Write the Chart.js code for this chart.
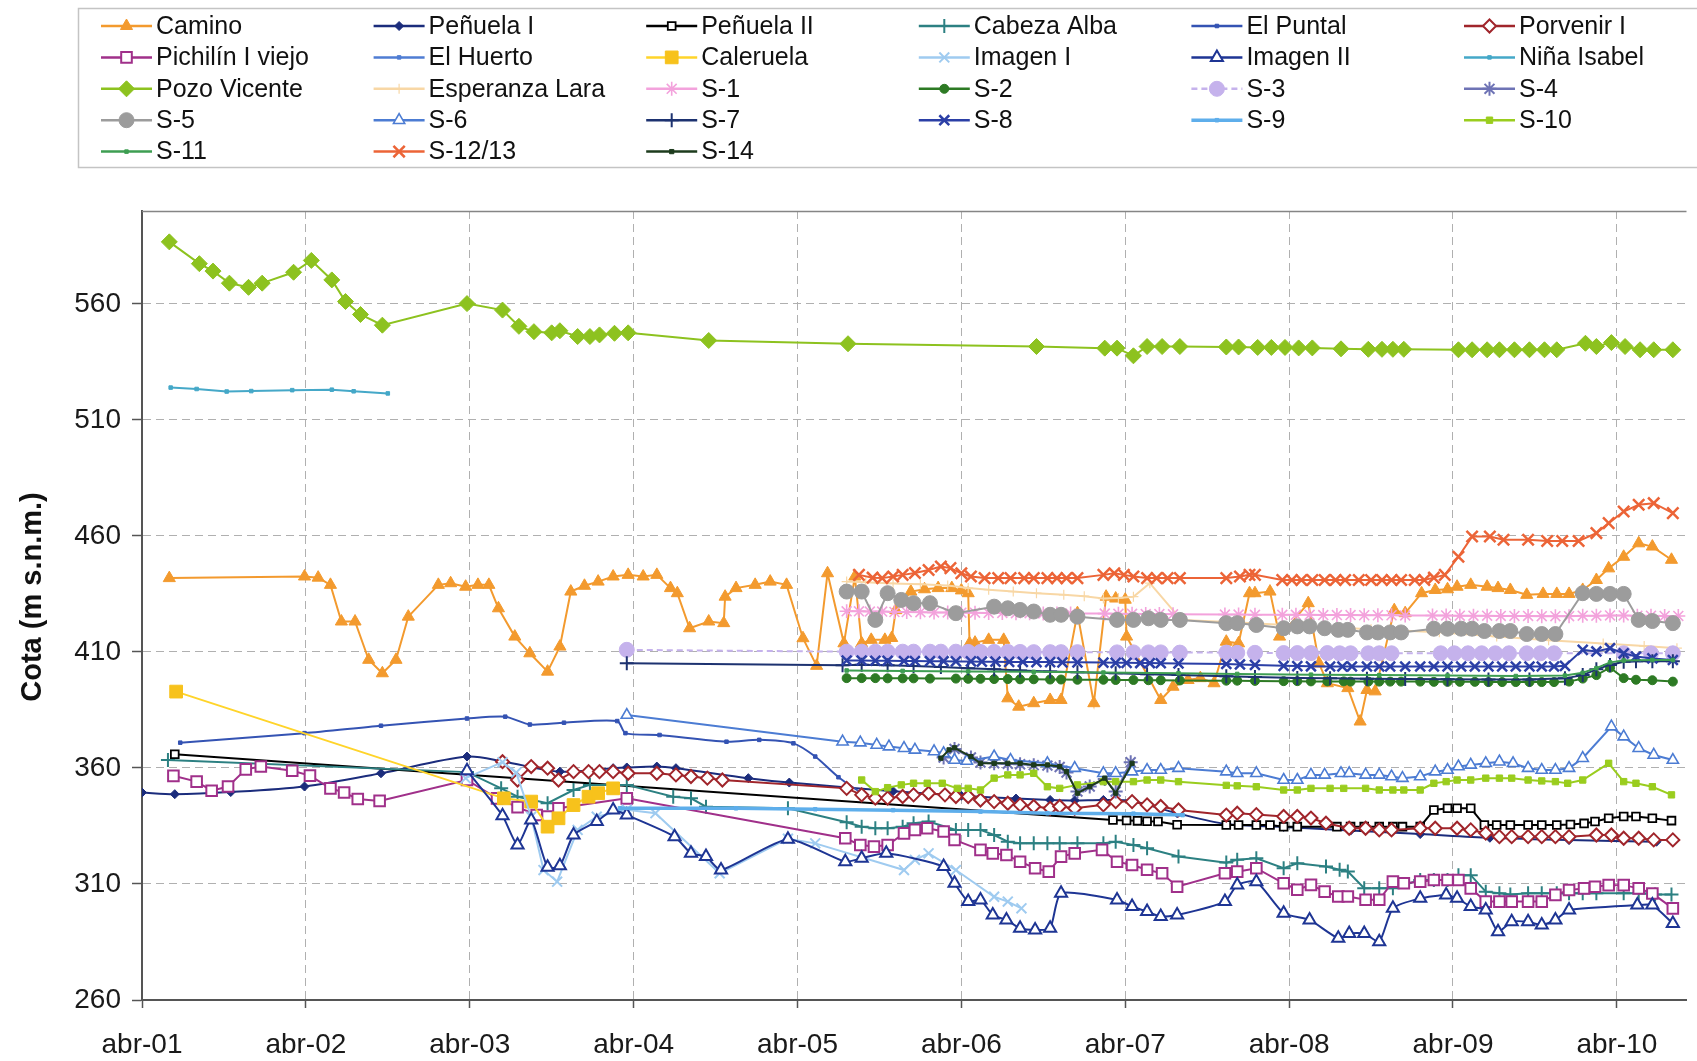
<!DOCTYPE html>
<html>
<head>
<meta charset="utf-8">
<script src="https://cdn.jsdelivr.net/npm/chart.js"></script>
<style>
  html, body { margin: 0; padding: 0; background: #fff; overflow: hidden; }
  canvas { display: block; }
</style>
</head>
<body>
<canvas id="chart" width="1697" height="1061"></canvas>
<script>
// Piezometric levels. Each point: [months since April 2001, elevation (m s.n.m.)]
const camino = [[2.0,441.8],[11.9,442.5],[12.9,442.0],[13.8,438.9],[14.6,423.1],[15.6,423.1],[16.6,406.6],[17.6,400.8],[18.6,406.6],[19.5,425.2],[21.7,438.9],[22.6,439.6],[23.7,438.1],[24.6,438.9],[25.4,438.9],[26.1,428.8],[27.3,416.6],[28.4,409.4],[29.7,401.5],[30.6,412.3],[31.4,436.0],[32.4,438.5],[33.4,440.3],[34.5,442.5],[35.6,443.2],[36.7,442.5],[37.7,443.2],[38.7,437.5],[39.2,435.3],[40.1,420.2],[41.5,423.1],[42.6,422.4],[42.7,433.8],[43.5,437.5],[44.9,438.9],[46.0,440.3],[47.2,438.9],[48.4,415.9],[49.4,404.0],[50.2,443.9],[51.4,413.7],[52.2,442.5],[52.7,413.7],[53.4,415.2],[54.4,415.2],[54.9,416.0],[55.2,428.0],[56.3,436.0],[57.3,437.0],[58.3,437.5],[59.3,437.5],[60.0,436.5],[60.5,435.3],[60.6,413.7],[61.0,414.0],[62.0,415.2],[63.1,415.2],[63.4,390.0],[64.2,386.4],[65.3,387.9],[66.5,389.3],[67.3,389.3],[68.5,426.7],[69.7,387.9],[70.6,433.8],[71.3,433.0],[72.0,432.5],[72.1,416.6],[74.6,389.3],[75.5,395.0],[76.6,397.9],[77.5,398.7],[78.5,396.5],[79.4,414.4],[80.3,413.7],[81.1,435.3],[81.5,435.3],[82.6,436.0],[83.3,416.6],[85.4,431.0],[86.2,405.0],[86.8,396.5],[88.3,394.4],[89.2,380.0],[89.7,393.6],[90.3,393.0],[91.7,428.0],[92.5,426.7],[93.7,435.3],[94.7,436.7],[95.6,437.0],[96.3,438.1],[97.3,438.9],[98.5,438.1],[99.3,437.5],[100.2,436.7],[101.4,434.6],[102.6,435.0],[103.6,435.0],[104.5,435.0],[105.5,436.7],[106.5,441.0],[107.4,446.0],[108.5,451.0],[109.6,456.8],[110.6,455.4],[112.0,449.7]];
const penuela1 = [[0,349.4],[2.4,348.7],[6.5,349.6],[11.9,352.0],[17.5,357.7],[23.8,364.9],[26.5,362.7],[30.6,358.4],[34.5,359.9],[35.5,360.2],[37.7,360.6],[39.1,359.9],[44.4,355.6],[47.4,353.7],[55.0,350.0],[60.0,348.0],[64.0,346.8],[66.5,346.2],[68.3,346.0],[70.4,346.2],[72.5,345.8],[75.8,340.5],[79.4,335.8],[83.6,334.6],[88.5,333.0],[93.6,331.5],[98.7,329.9],[104.5,328.9],[110.9,328.2]];
const penuela2 = [[2.4,365.9],[71.1,337.6],[72.1,337.4],[72.9,337.2],[73.6,337.0],[74.4,336.9],[75.8,335.5],[79.4,335.4],[80.3,335.4],[81.6,335.4],[82.6,335.4],[83.6,334.7],[84.6,334.7],[87.5,334.7],[88.5,334.7],[89.5,334.7],[90.6,334.7],[91.6,334.7],[92.3,334.7],[93.6,334.7],[94.6,341.9],[95.6,342.6],[96.3,342.6],[97.3,342.6],[98.3,335.4],[99.2,335.4],[100.2,335.4],[101.5,335.4],[102.5,335.4],[103.6,335.4],[104.6,335.6],[105.6,336.1],[106.4,336.9],[107.4,338.3],[108.5,339.1],[109.4,339.1],[110.6,338.3],[112.0,337.3]];
const cabezaAlba = [[1.9,363.4],[23.8,358.2],[26.3,351.2],[27.5,347.6],[29.7,344.8],[31.6,350.5],[32.8,352.7],[35.5,352.7],[38.9,347.6],[40.2,346.9],[41.3,343.3],[47.3,342.6],[51.6,336.6],[52.7,334.7],[53.7,334.0],[54.6,334.0],[55.7,334.7],[56.5,336.2],[57.6,336.9],[59.6,333.3],[60.5,333.3],[61.4,333.3],[62.4,331.1],[63.4,328.2],[64.3,327.5],[65.3,327.5],[66.3,327.5],[67.2,327.5],[68.5,327.5],[70.4,327.5],[71.3,328.2],[72.6,326.8],[73.6,325.4],[75.9,321.8],[79.4,319.2],[80.2,320.4],[81.6,321.1],[83.6,316.8],[84.6,318.9],[86.7,317.5],[87.7,316.1],[88.3,315.4],[89.5,308.2],[90.6,308.2],[91.6,308.2],[93.6,311.7],[94.6,311.7],[95.6,311.7],[96.4,313.8],[97.3,313.8],[98.4,306.7],[99.4,306.0],[100.2,305.5],[101.5,306.0],[102.5,306.0],[103.6,306.0],[104.5,306.0],[105.5,306.0],[106.5,306.0],[108.5,306.0],[109.6,306.0],[110.8,305.5],[112.0,305.5]];
const elPuntal = [[2.8,370.9],[11.9,375.0],[17.5,378.2],[23.8,381.3],[26.6,382.1],[28.4,378.7],[30.9,379.5],[34.8,380.2],[35.4,375.0],[37.9,374.2],[42.8,371.3],[45.2,372.1],[47.7,370.6],[49.3,364.9],[51.0,356.0],[52.7,349.1]];
const porvenir1 = [[26.4,362.7],[27.5,354.8],[28.5,360.6],[29.7,359.9],[30.5,354.8],[31.6,358.4],[32.7,358.4],[33.5,358.4],[34.5,358.4],[35.6,357.7],[37.7,357.7],[39.1,357.0],[40.2,356.3],[41.4,355.6],[42.5,354.8],[51.6,351.2],[52.7,348.4],[53.7,347.0],[54.6,347.0],[55.7,347.7],[56.5,348.4],[57.6,349.1],[58.8,348.4],[59.6,347.7],[60.5,347.7],[61.4,346.2],[62.4,345.5],[63.4,344.8],[64.3,344.1],[65.3,343.4],[66.5,342.6],[67.2,343.4],[68.3,342.6],[70.4,344.1],[71.3,345.5],[72.5,345.5],[73.6,344.1],[74.6,343.4],[75.9,341.9],[79.4,339.7],[80.2,340.5],[81.6,339.9],[83.6,339.1],[84.6,339.1],[85.6,338.4],[86.7,336.2],[88.4,334.0],[89.6,334.0],[90.6,333.3],[91.5,333.3],[93.6,334.0],[94.7,334.0],[96.3,334.0],[97.3,333.3],[98.4,331.9],[99.4,330.4],[100.3,330.4],[101.5,330.4],[102.5,330.4],[103.5,330.4],[104.5,330.4],[106.5,331.1],[107.6,331.1],[108.5,329.7],[109.6,329.7],[110.7,329.0],[112.1,329.0]];
const pichilin = [[2.3,356.6],[4.0,354.1],[5.1,350.2],[6.3,352.0],[7.6,359.4],[8.7,360.6],[11.0,358.8],[12.3,356.7],[13.8,351.2],[14.8,349.4],[15.8,346.6],[17.4,345.8],[23.8,354.8],[26.0,346.9],[27.5,343.1],[28.9,339.7],[29.7,339.0],[30.5,342.6],[35.5,346.9],[51.5,329.7],[52.6,326.8],[53.6,326.1],[54.6,326.8],[55.8,331.8],[56.6,333.3],[57.5,334.0],[58.7,332.6],[59.5,329.0],[61.4,324.7],[62.3,323.2],[63.3,322.5],[64.3,319.6],[65.4,316.8],[66.4,315.3],[67.3,321.8],[68.3,323.2],[70.3,324.7],[71.4,319.6],[72.5,318.2],[73.6,316.1],[74.7,314.6],[75.8,308.8],[79.3,314.6],[80.2,315.3],[81.6,316.8],[83.6,310.3],[84.6,307.5],[85.6,309.6],[86.6,306.7],[87.6,304.6],[88.3,304.6],[89.6,303.2],[90.6,303.2],[91.6,311.0],[92.4,310.3],[93.6,311.0],[94.6,311.7],[95.6,311.7],[96.4,311.7],[97.3,308.1],[98.4,302.4],[99.4,302.4],[100.3,302.4],[101.5,302.4],[102.5,302.4],[103.5,305.3],[104.5,307.4],[105.6,308.1],[106.4,308.8],[107.4,309.5],[108.5,309.5],[109.6,308.1],[110.6,305.9],[112.1,299.5]];
const elHuerto = [];
const caleruela = [[2.5,392.9],[26.5,346.9],[28.5,345.5],[29.7,334.7],[30.5,338.3],[31.6,344.0],[32.7,347.6],[33.4,349.1],[34.5,351.2]];
const imagen1 = [[23.7,355.6],[26.4,362.5],[27.4,358.0],[28.5,339.0],[29.4,316.0],[30.4,311.0],[31.9,333.3],[33.3,339.0],[35.5,342.0],[37.6,340.5],[42.3,314.6],[47.3,329.5],[49.3,327.5],[55.8,316.0],[56.6,320.4],[57.6,323.2],[59.6,316.0],[62.4,304.5],[63.4,302.4],[64.4,299.5]];
const imagen2 = [[23.8,358.8],[26.4,339.4],[27.5,326.8],[28.5,337.6],[29.7,317.2],[30.6,317.8],[31.6,331.1],[33.3,336.9],[34.5,341.9],[35.5,339.7],[39.0,330.4],[40.2,323.2],[41.3,321.8],[42.4,316.0],[47.3,329.3],[51.5,319.6],[52.7,321.1],[54.5,323.2],[58.7,317.5],[59.5,310.3],[60.5,302.4],[61.4,303.1],[62.3,296.6],[63.3,294.5],[64.3,290.9],[65.4,290.2],[66.5,290.9],[67.3,306.0],[71.4,303.1],[72.5,300.3],[73.6,298.1],[74.6,296.0],[75.8,296.6],[79.3,302.4],[80.2,309.6],[81.6,311.0],[83.6,297.4],[85.5,294.5],[87.6,286.6],[88.4,288.7],[89.5,288.7],[90.6,285.1],[91.6,299.5],[93.6,303.8],[95.5,305.3],[96.3,303.8],[97.3,300.3],[98.4,298.8],[99.3,289.4],[100.3,293.7],[101.5,293.7],[102.5,292.3],[103.5,294.5],[104.5,298.8],[109.5,300.9],[110.6,300.9],[112.1,293.0]];
const ninaIsabel = [[2.1,523.9],[4.0,523.3],[6.2,522.2],[8.0,522.4],[11.0,522.8],[13.9,523.0],[15.5,522.3],[18.0,521.4]];
const pozoVicente = [[2.0,586.7],[4.2,577.3],[5.2,574.1],[6.4,568.9],[7.8,567.1],[8.8,568.9],[11.1,573.6],[12.4,578.7],[13.9,570.3],[14.9,561.0],[16.0,555.4],[17.6,550.8],[23.8,560.1],[26.4,557.3],[27.6,550.3],[28.7,548.0],[30.0,547.5],[30.6,548.4],[31.9,545.9],[32.8,545.9],[33.5,546.6],[34.6,547.3],[35.6,547.5],[41.5,544.2],[51.7,542.8],[65.5,541.6],[70.5,540.9],[71.4,540.9],[72.6,537.6],[73.6,541.6],[74.7,541.6],[76.0,541.6],[79.4,541.4],[80.3,541.4],[81.7,541.2],[82.7,541.2],[83.7,541.2],[84.7,541.0],[85.7,541.0],[87.8,540.6],[89.8,540.4],[90.8,540.4],[91.6,540.4],[92.4,540.4],[96.4,540.2],[97.4,540.2],[98.5,540.2],[99.4,540.2],[100.5,540.2],[101.6,540.2],[102.7,540.2],[103.6,540.2],[105.7,543.0],[106.5,541.6],[107.6,543.3],[108.6,541.6],[109.7,540.2],[110.7,540.2],[112.1,540.2]];
const esperanzaLara = [[51.6,440.3],[53.0,440.0],[55.0,439.5],[57.0,439.2],[59.0,438.6],[60.5,437.5],[62.0,436.8],[63.8,436.0],[65.5,435.3],[67.5,434.6],[69.0,434.0],[70.4,433.0],[71.5,433.2],[72.6,433.8],[73.8,439.6],[76.1,423.8],[80.0,422.8],[85.0,421.2],[90.0,419.8],[95.0,418.5],[99.2,416.6],[103.0,415.0],[107.0,413.6],[110.0,412.5],[112.4,411.6]];
const s1 = [[51.6,427.5],[52.5,427.5],[53.3,427.4],[54.2,427.4],[55.1,427.2],[56.0,427.2],[57.0,427.1],[58.0,427.0],[59.0,427.0],[60.0,426.9],[61.0,426.9],[62.0,426.8],[63.0,426.8],[64.0,426.7],[65.0,426.7],[66.0,426.6],[67.0,426.6],[68.0,426.5],[70.5,426.5],[71.5,426.4],[72.5,426.4],[73.5,426.3],[74.5,426.3],[75.5,426.2],[79.3,426.1],[80.3,426.1],[81.5,426.0],[83.5,426.0],[84.5,426.0],[85.5,426.0],[86.5,425.9],[87.5,425.9],[88.5,425.9],[89.5,425.8],[90.5,425.8],[91.5,425.8],[92.5,425.7],[94.5,425.7],[95.5,425.7],[96.5,425.6],[97.5,425.6],[98.5,425.6],[99.5,425.5],[100.5,425.5],[101.5,425.5],[102.5,425.4],[103.5,425.4],[104.5,425.4],[105.5,425.6],[106.5,425.6],[107.5,425.7],[108.5,425.7],[109.5,425.6],[110.5,425.6],[111.5,425.5],[112.5,425.5]];
const s2 = [[51.6,398.7],[52.7,398.7],[53.7,398.7],[54.6,398.6],[55.7,398.6],[56.5,398.6],[57.7,398.5],[59.6,398.5],[60.5,398.4],[61.4,398.4],[62.4,398.3],[63.4,398.3],[64.3,398.2],[65.3,398.2],[66.5,398.1],[67.3,398.1],[68.5,398.0],[70.4,398.0],[71.3,397.9],[72.6,397.9],[73.7,397.8],[74.6,397.8],[76.0,397.7],[79.4,397.6],[80.2,397.6],[81.5,397.5],[83.6,397.4],[84.6,397.4],[85.6,397.3],[86.8,397.3],[88.0,397.3],[88.5,397.2],[89.8,397.2],[90.6,397.2],[91.4,397.2],[92.2,397.2],[93.6,397.2],[94.6,397.1],[95.6,397.1],[96.5,397.1],[97.6,397.1],[98.6,397.0],[99.6,397.0],[100.6,397.0],[101.6,397.0],[102.5,397.0],[103.4,397.0],[104.5,397.2],[105.5,398.5],[106.5,400.0],[107.5,403.2],[108.5,398.7],[109.4,398.0],[110.6,397.8],[112.1,397.2]];
const s3 = [[35.5,410.9],[51.6,410.1],[52.7,410.1],[53.7,410.1],[54.6,410.1],[55.7,410.1],[56.5,410.1],[57.7,410.1],[58.5,410.1],[59.6,410.1],[60.5,410.0],[61.4,410.0],[62.4,410.0],[63.4,410.0],[64.3,410.0],[65.3,409.9],[66.5,409.9],[67.3,409.9],[68.5,409.9],[71.4,409.8],[72.6,409.8],[73.7,409.8],[74.6,409.8],[76.0,409.7],[79.4,409.7],[80.2,409.6],[81.5,409.6],[83.6,409.5],[84.6,409.5],[85.6,409.5],[86.8,409.5],[87.7,409.4],[88.5,409.4],[89.8,409.4],[90.6,409.4],[91.5,409.4],[95.1,409.4],[96.1,409.4],[97.1,409.4],[98.1,409.4],[99.1,409.4],[100.1,409.4],[101.4,409.4],[102.4,409.4],[103.4,409.4],[108.5,409.4],[110.5,409.4],[112.1,409.4]];
const s4 = [[58.7,364.5],[59.5,368.2],[60.7,364.5],[61.4,362.3],[62.4,362.0],[63.4,361.8],[64.3,361.6],[65.3,361.2],[66.3,361.0],[67.2,360.4],[67.7,358.0],[68.5,349.8],[69.4,352.0],[70.5,355.2],[71.3,349.8],[72.4,362.5]];
const s5 = [[51.6,436.0],[52.7,436.0],[53.7,423.8],[54.6,435.3],[55.6,432.4],[56.5,431.0],[57.7,431.0],[59.6,426.7],[62.4,429.5],[63.4,428.8],[64.3,428.1],[65.3,427.4],[66.5,426.0],[67.3,426.0],[68.5,425.2],[71.4,423.8],[72.6,423.8],[73.7,424.5],[74.6,423.8],[76.0,423.8],[79.4,422.4],[80.2,422.4],[81.6,421.6],[83.6,420.2],[84.6,421.0],[85.5,421.0],[86.6,420.2],[87.6,419.5],[88.3,419.5],[89.7,418.4],[90.5,418.4],[91.4,418.4],[92.2,418.4],[94.6,420.0],[95.6,420.0],[96.6,420.0],[97.4,420.0],[98.3,419.0],[99.4,419.0],[100.2,419.0],[101.4,417.7],[102.5,417.7],[103.5,417.7],[105.5,435.3],[106.5,435.0],[107.5,435.0],[108.5,435.0],[109.6,423.8],[110.6,423.3],[112.1,422.4]];
const s6 = [[35.5,382.8],[51.3,371.3],[52.6,370.9],[53.8,369.9],[54.7,369.2],[55.8,368.5],[56.6,367.8],[58.0,367.1],[58.7,366.3],[59.5,363.4],[60.4,363.0],[62.4,364.9],[63.6,363.4],[66.3,362.0],[68.3,359.9],[70.4,357.7],[71.3,357.7],[72.5,358.4],[73.6,359.1],[74.6,359.1],[75.9,359.9],[79.4,358.4],[80.2,357.7],[81.6,357.7],[83.6,354.8],[84.6,354.8],[85.6,357.0],[86.6,357.0],[87.8,357.7],[88.4,357.7],[89.6,357.0],[90.6,357.0],[91.5,356.3],[92.3,355.6],[93.6,356.3],[94.7,358.4],[95.6,359.1],[96.4,360.6],[97.3,361.3],[98.4,362.0],[99.4,362.7],[100.4,362.0],[101.5,359.9],[102.5,359.1],[103.5,359.1],[104.5,359.9],[105.5,364.2],[107.6,377.8],[108.5,373.5],[109.6,368.5],[110.7,365.6],[112.1,363.4]];
const s7 = [[35.5,405.1],[51.3,404.2],[52.7,404.5],[54.6,404.2],[56.5,403.9],[58.5,403.5],[60.5,403.0],[62.4,402.5],[64.3,402.0],[66.5,401.6],[68.5,401.2],[71.3,400.8],[73.6,400.4],[75.9,400.0],[79.4,399.5],[81.5,399.2],[84.6,398.8],[87.0,398.6],[89.7,398.4],[92.5,398.3],[95.6,398.2],[98.6,398.1],[101.6,398.1],[104.2,398.6],[105.5,400.0],[106.5,402.5],[107.5,404.4],[108.5,405.8],[109.4,406.0],[110.6,406.0],[112.1,406.0]];
const s8 = [[51.6,406.3],[52.7,406.3],[53.7,406.2],[54.6,406.2],[55.8,406.1],[56.6,406.1],[57.7,406.0],[58.7,406.0],[59.6,405.9],[60.7,405.9],[61.5,405.8],[62.5,405.8],[63.5,405.7],[64.5,405.7],[65.5,405.6],[66.5,405.6],[67.4,405.5],[68.5,405.5],[70.4,405.4],[71.3,405.3],[72.1,405.3],[73.1,405.2],[73.8,405.2],[74.6,405.1],[75.9,405.0],[79.4,404.8],[80.4,404.6],[81.5,404.4],[83.6,404.0],[84.6,403.9],[85.6,403.8],[87.0,403.7],[87.9,403.7],[88.6,403.7],[89.7,403.7],[90.6,403.7],[91.4,403.7],[92.5,403.7],[93.6,403.7],[94.6,403.7],[95.6,403.7],[96.6,403.7],[97.6,403.7],[98.6,403.7],[99.6,403.7],[100.6,403.7],[101.6,403.7],[102.5,403.7],[103.4,403.7],[104.2,404.0],[105.5,410.9],[106.5,410.2],[107.5,411.6],[108.5,409.4],[109.4,408.0],[110.6,407.2],[112.1,406.5]];
const s9 = [[35.0,342.6],[43.5,342.6],[49.3,342.2],[55.0,341.8],[61.4,341.2],[66.3,340.5],[72.6,340.3],[76.2,339.7]];
const s10 = [[52.7,354.8],[53.7,349.8],[54.6,351.5],[55.6,352.7],[56.5,353.4],[57.5,353.4],[58.6,353.4],[59.7,351.2],[60.5,351.2],[61.4,350.5],[62.4,355.6],[63.4,357.0],[64.3,357.0],[65.3,357.7],[66.3,351.9],[67.2,351.2],[68.5,352.7],[70.4,354.1],[71.3,354.1],[72.6,354.1],[73.6,354.8],[74.6,354.8],[75.9,354.1],[79.4,352.5],[80.2,352.3],[81.6,351.9],[83.6,350.5],[84.6,350.5],[85.6,351.2],[87.0,351.2],[88.0,351.2],[89.6,351.2],[90.6,350.5],[91.6,350.5],[92.4,350.5],[93.6,350.5],[94.6,353.4],[95.5,354.1],[96.3,354.8],[97.3,354.8],[98.4,355.6],[99.4,355.6],[100.3,355.6],[101.5,354.8],[102.5,354.4],[103.5,354.1],[104.4,353.4],[105.5,354.8],[107.4,362.0],[108.5,354.1],[109.4,353.4],[110.6,351.9],[112.0,348.4]];
const s11 = [[51.6,402.0],[55.7,401.8],[60.5,401.6],[65.3,401.4],[70.4,401.1],[75.9,400.8],[80.2,400.5],[85.6,400.2],[90.6,400.0],[95.6,399.8],[100.6,399.6],[104.2,399.8],[105.5,401.0],[106.5,403.0],[107.5,405.5],[108.5,406.3],[110.6,406.5],[112.1,406.5]];
const s1213 = [[52.5,443.2],[53.5,442.0],[54.2,441.8],[55.0,442.5],[55.7,443.2],[56.6,444.0],[57.6,445.3],[58.5,446.8],[59.2,446.1],[60.0,443.9],[60.7,442.5],[61.7,441.8],[62.7,441.8],[63.6,441.8],[64.6,441.8],[65.3,441.8],[66.3,441.8],[67.0,441.8],[67.7,441.8],[68.5,441.8],[70.4,443.2],[71.2,443.9],[71.9,443.2],[72.6,442.5],[73.6,441.8],[74.3,441.8],[75.1,441.8],[76.0,441.8],[79.4,441.8],[80.4,442.5],[81.1,443.2],[81.5,443.2],[83.5,441.0],[84.2,441.0],[84.9,441.0],[85.7,441.0],[86.6,441.0],[87.4,441.0],[88.1,441.0],[89.1,441.0],[90.0,441.0],[90.8,441.0],[91.5,441.0],[92.2,441.0],[93.2,441.0],[93.9,441.0],[94.6,442.0],[95.4,443.2],[96.4,451.0],[97.4,459.7],[98.7,459.7],[99.7,458.3],[101.5,458.3],[102.9,457.8],[104.0,457.8],[105.2,457.8],[106.5,461.2],[107.4,465.5],[108.5,470.5],[109.6,473.4],[110.7,474.1],[112.1,469.8]];
const s14 = [[58.5,364.2],[59.1,367.8],[59.5,368.7],[60.7,364.9],[61.4,362.0],[62.4,362.0],[63.4,362.0],[64.3,362.0],[65.3,361.3],[66.3,361.3],[67.2,360.6],[67.7,358.4],[68.5,349.1],[69.4,351.9],[70.5,355.6],[71.3,349.1],[72.5,362.0]];

// Axis labels
const yearLabels = ['abr-01','abr-02','abr-03','abr-04','abr-05','abr-06','abr-07','abr-08','abr-09','abr-10'];
const yTicks = [260, 310, 360, 410, 460, 510, 560];
const yTitle = 'Cota (m s.n.m.)';

// Series list (legend order) with their drawing styles
const series = [
  { label: 'Camino',          data: camino,        color: '#F39A2E', marker: 'triangle', r: 7,   fill: '#F39A2E', mbw: 1 },
  { label: 'Peñuela I',       data: penuela1,      color: '#1B2C7C', marker: 'rectRot',  r: 4.5, fill: '#1B2C7C', mbw: 1, tension: 0.3 },
  { label: 'Peñuela II',      data: penuela2,      color: '#000000', marker: 'rect',     r: 5.5, fill: '#FFFFFF', mbw: 1.8 },
  { label: 'Cabeza Alba',     data: cabezaAlba,    color: '#2C8082', marker: 'cross',    r: 7,   fill: '#2C8082', mbw: 2 },
  { label: 'El Puntal',       data: elPuntal,      color: '#3453B3', marker: 'rect',     r: 2.5, fill: '#3453B3', mbw: 1, tension: 0.25 },
  { label: 'Porvenir I',      data: porvenir1,     color: '#A0252B', marker: 'rectRot',  r: 6.5, fill: '#FFFFFF', mbw: 2 },
  { label: 'Pichilín I viejo',data: pichilin,      color: '#A0308A', marker: 'rect',     r: 7.5, fill: '#FFFFFF', mbw: 2 },
  { label: 'El Huerto',       data: elHuerto,      color: '#4F7DD3', marker: 'rect',     r: 2.5, fill: '#4F7DD3', mbw: 1 },
  { label: 'Caleruela',       data: caleruela,     color: '#FFD42A', marker: 'rect',     r: 9,   fill: '#F7C21C', mbw: 1, mcolor: '#F7C21C' },
  { label: 'Imagen I',        data: imagen1,       color: '#9FCBF0', marker: 'crossRot', r: 7,   fill: '#9FCBF0', mbw: 2 },
  { label: 'Imagen II',       data: imagen2,       color: '#1E3594', marker: 'triangle', r: 7,   fill: '#FFFFFF', mbw: 2, tension: 0.2 },
  { label: 'Niña Isabel',     data: ninaIsabel,    color: '#45A8C8', marker: 'rect',     r: 2.5, fill: '#45A8C8', mbw: 1 },
  { label: 'Pozo Vicente',    data: pozoVicente,   color: '#8DC21F', marker: 'rectRot',  r: 8,   fill: '#8DC21F', mbw: 1 },
  { label: 'Esperanza Lara',  data: esperanzaLara, color: '#F8D7A5', marker: 'cross',    r: 5,   fill: '#F8D7A5', mbw: 1.2 },
  { label: 'S-1',             data: s1,            color: '#F3A2DC', marker: 'star',     r: 7,   fill: '#F3A2DC', mbw: 1.6 },
  { label: 'S-2',             data: s2,            color: '#2D7A24', marker: 'circle',   r: 4.5, fill: '#2D7A24', mbw: 1 },
  { label: 'S-3',             data: s3,            color: '#C5B2EC', marker: 'circle',   r: 7.5, fill: '#C5B2EC', mbw: 1, dash: [6, 4] },
  { label: 'S-4',             data: s4,            color: '#6E73B5', marker: 'star',     r: 7,   fill: '#6E73B5', mbw: 2 },
  { label: 'S-5',             data: s5,            color: '#9C9C9C', marker: 'circle',   r: 7.5, fill: '#9C9C9C', mbw: 1 },
  { label: 'S-6',             data: s6,            color: '#4C7CD3', marker: 'triangle', r: 6.5, fill: '#FFFFFF', mbw: 1.6 },
  { label: 'S-7',             data: s7,            color: '#1D3270', marker: 'cross',    r: 7,   fill: '#1D3270', mbw: 2 },
  { label: 'S-8',             data: s8,            color: '#2B3FA6', marker: 'crossRot', r: 7,   fill: '#2B3FA6', mbw: 2.5 },
  { label: 'S-9',             data: s9,            color: '#5EAEEB', marker: 'rect',     r: 2.5, fill: '#5EAEEB', mbw: 1, width: 3.5 },
  { label: 'S-10',            data: s10,           color: '#9ACD1E', marker: 'rect',     r: 4.5, fill: '#9ACD1E', mbw: 1 },
  { label: 'S-11',            data: s11,           color: '#3E9E52', marker: 'rect',     r: 2.5, fill: '#3E9E52', mbw: 1 },
  { label: 'S-12/13',         data: s1213,         color: '#EC6437', marker: 'crossRot', r: 8,   fill: '#EC6437', mbw: 2.5 },
  { label: 'S-14',            data: s14,           color: '#1D3B1D', marker: 'rect',     r: 3,   fill: '#1D3B1D', mbw: 1 }
];

const FONT = "'Liberation Sans', Arial, Helvetica, sans-serif";

const datasets = series.map((s, i) => ({
  label: s.label,
  data: s.data.map(p => ({ x: p[0], y: p[1] })),
  borderColor: s.color,
  backgroundColor: s.fill,
  borderWidth: s.width || 2,
  borderDash: s.dash || [],
  pointStyle: s.marker,
  pointRadius: s.r,
  pointBackgroundColor: s.fill,
  pointBorderColor: s.mcolor || s.color,
  pointBorderWidth: s.mbw,
  tension: s.tension || 0,
  fill: false,
  order: -i
}));

// Fallback marker painter (mirrors Chart.js point shapes)
function paintMarker(ctx, style, r, bw, x, y) {
  if (Chart.helpers && Chart.helpers.drawPoint) {
    Chart.helpers.drawPoint(ctx, { pointStyle: style, radius: r, borderWidth: bw, rotation: 0 }, x, y);
    return;
  }
  const d = r * Math.SQRT1_2;
  ctx.beginPath();
  if (style === 'circle') ctx.arc(x, y, r, 0, Math.PI * 2);
  else if (style === 'rect') ctx.rect(x - d, y - d, 2 * d, 2 * d);
  else if (style === 'rectRot') { ctx.moveTo(x - r, y); ctx.lineTo(x, y - r); ctx.lineTo(x + r, y); ctx.lineTo(x, y + r); ctx.closePath(); }
  else if (style === 'triangle') { ctx.moveTo(x, y - r); ctx.lineTo(x + r * 0.866, y + r / 2); ctx.lineTo(x - r * 0.866, y + r / 2); ctx.closePath(); }
  if (style === 'cross' || style === 'star') { ctx.moveTo(x, y - r); ctx.lineTo(x, y + r); ctx.moveTo(x - r, y); ctx.lineTo(x + r, y); }
  if (style === 'crossRot' || style === 'star') { ctx.moveTo(x - d, y - d); ctx.lineTo(x + d, y + d); ctx.moveTo(x + d, y - d); ctx.lineTo(x - d, y + d); }
  if (['circle', 'rect', 'rectRot', 'triangle'].includes(style)) ctx.fill();
  ctx.stroke();
}

// Legend box (6 columns) drawn above the plot
const legendBox = {
  id: 'legendBox',
  afterDraw(chart) {
    const ctx = chart.ctx;
    ctx.save();
    ctx.strokeStyle = '#c4c4c4';
    ctx.lineWidth = 1.5;
    ctx.strokeRect(78.5, 8.5, 1700, 159);
    ctx.font = '25px ' + FONT;
    ctx.textBaseline = 'middle';
    ctx.textAlign = 'left';
    series.forEach((s, i) => {
      const col = i % 6, row = Math.floor(i / 6);
      const x0 = 101 + col * 272.6;
      const y0 = 26 + row * 31.4;
      ctx.setLineDash(s.dash || []);
      ctx.strokeStyle = s.color;
      ctx.lineWidth = s.width ? s.width : 2.5;
      ctx.beginPath();
      ctx.moveTo(x0, y0);
      ctx.lineTo(x0 + 51, y0);
      ctx.stroke();
      ctx.setLineDash([]);
      ctx.fillStyle = s.fill;
      ctx.strokeStyle = s.mcolor || s.color;
      ctx.lineWidth = s.mbw;
      paintMarker(ctx, s.marker, s.r, s.mbw, x0 + 25.5, y0);
      ctx.fillStyle = '#111';
      ctx.fillText(s.label, x0 + 55, y0 + 1);
    });
    ctx.restore();
  }
};

// Plot frame top edge and the rotated y-axis title
const frameAndTitle = {
  id: 'frameAndTitle',
  afterDraw(chart) {
    const ctx = chart.ctx, a = chart.chartArea;
    ctx.save();
    ctx.strokeStyle = '#858585';
    ctx.lineWidth = 1.5;
    ctx.beginPath();
    ctx.moveTo(a.left, a.top + 0.5);
    ctx.lineTo(a.right, a.top + 0.5);
    ctx.stroke();
    ctx.translate(33, 597);
    ctx.rotate(-Math.PI / 2);
    ctx.font = 'bold 29px ' + FONT;
    ctx.fillStyle = '#111';
    ctx.textAlign = 'center';
    ctx.textBaseline = 'middle';
    ctx.fillText(yTitle, 0, 0);
    ctx.restore();
  }
};

new Chart(document.getElementById('chart'), {
  type: 'line',
  data: { datasets },
  options: {
    responsive: false,
    animation: false,
    devicePixelRatio: 1,
    events: [],
    layout: { padding: { top: 211, right: 0, bottom: 0, left: 0 } },
    plugins: { legend: { display: false }, tooltip: { enabled: false } },
    scales: {
      x: {
        type: 'linear',
        min: 0,
        max: 113.1,
        afterBuildTicks: s => { s.ticks = yearLabels.map((_, i) => ({ value: i * 12 })); },
        afterFit: s => { s.height = 61; },
        ticks: {
          autoSkip: false,
          maxRotation: 0,
          padding: 20,
          color: '#1a1a1a',
          font: { family: FONT, size: 28 },
          callback: v => yearLabels[Math.round(v / 12)]
        },
        grid: { color: '#b0b0b0', lineWidth: 1, tickLength: 8, tickColor: '#555', tickWidth: 1.5, tickBorderDash: [] },
        border: { display: true, color: '#555', width: 2, dash: [8, 5] }
      },
      y: {
        type: 'linear',
        min: 260,
        max: 600,
        afterBuildTicks: s => { s.ticks = yTicks.map(v => ({ value: v })); },
        afterFit: s => { s.width = 142; },
        ticks: {
          padding: 11,
          color: '#1a1a1a',
          font: { family: FONT, size: 28 }
        },
        grid: { color: '#b0b0b0', lineWidth: 1, tickLength: 10, tickColor: '#555', tickWidth: 1.5, tickBorderDash: [] },
        border: { display: true, color: '#555', width: 2, dash: [8, 5] }
      }
    }
  },
  plugins: [legendBox, frameAndTitle]
});
</script>
</body>
</html>
